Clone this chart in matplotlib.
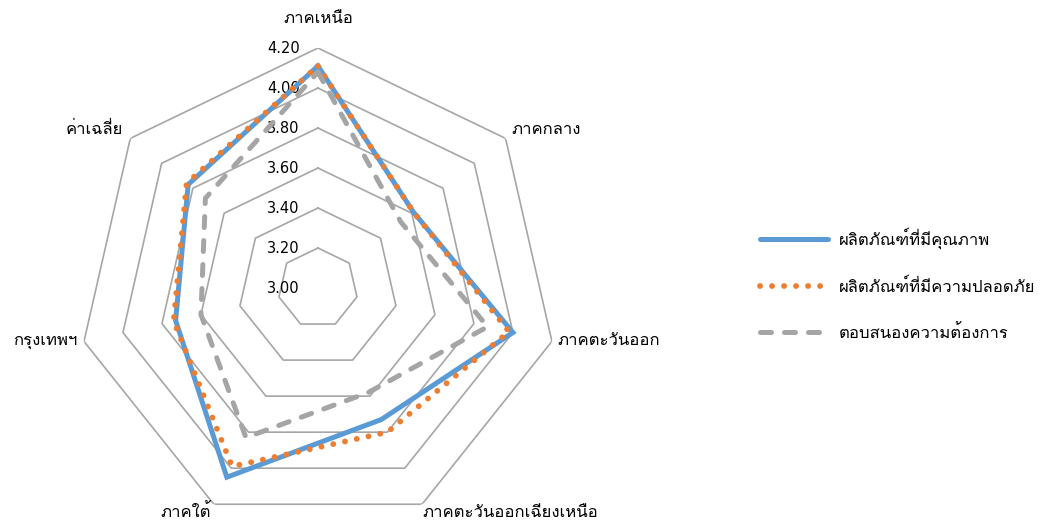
import numpy as np
import matplotlib
matplotlib.use("Agg")
import matplotlib.pyplot as plt
from matplotlib.lines import Line2D

plt.rcParams['font.family'] = ['Loma', 'Noto Sans Thai', 'DejaVu Sans']

# ข้อมูล (อ่านจากภาพ)
categories = ['ภาคเหนือ', 'ภาคกลาง', 'ภาคตะวันออก', 'ภาคตะวันออกเฉียงเหนือ',
              'ภาคใต้', 'กรุงเทพฯ', 'ค่าเฉลี่ย']
quality = [4.11, 3.61, 4.00, 3.73, 4.05, 3.73, 3.83]
safety = [4.11, 3.61, 3.98, 3.80, 3.99, 3.74, 3.84]
demand = [4.08, 3.53, 3.87, 3.58, 3.83, 3.60, 3.72]
series_names = ['ผลิตภัณฑ์ที่มีคุณภาพ', 'ผลิตภัณฑ์ที่มีความปลอดภัย', 'ตอบสนองความต้องการ']
ring_values = [3.20, 3.40, 3.60, 3.80, 4.00, 4.20]
tick_labels = ['3.00', '3.20', '3.40', '3.60', '3.80', '4.00', '4.20']

n = len(categories)
theta = np.arange(n) * 2 * np.pi / n
theta_closed = np.append(theta, theta[0])


def closed(values):
    return np.append(values, values[0])


fig = plt.figure(figsize=(10.45, 5.23), dpi=100)
ax = fig.add_axes([0.0746, -0.0096, 0.4593, 0.9178], projection='polar')
ax.set_theta_offset(np.pi / 2)
ax.set_theta_direction(-1)
ax.set_ylim(3.0, 4.2)
ax.axis('off')

# เส้นตาราง 7 เหลี่ยม
for rv in ring_values:
    ax.plot(theta_closed, [rv] * (n + 1), color='#A6A6A6', lw=1.2, zorder=1)

# ป้ายค่าบนแกน
for i, lab in enumerate(tick_labels):
    ax.annotate(lab, xy=(0, 3.0 + 0.2 * i), xytext=(-13, 0), textcoords='offset points',
                ha='right', va='center', fontsize=10.5, family='DejaVu Sans', color='#000000')

# ป้ายหมวดหมู่
label_cfg = [
    ((0, 21), 'center', 'center'),
    ((4, 6), 'left', 'center'),
    ((4, 0), 'left', 'center'),
    ((0, -6), 'left', 'center'),
    ((-2, -6), 'right', 'center'),
    ((-5, 0), 'right', 'center'),
    ((-5, 6), 'right', 'center'),
]
for t, cat, (off, ha, va) in zip(theta, categories, label_cfg):
    ax.annotate(cat, xy=(t, 4.2), xytext=off, textcoords='offset points',
                ha=ha, va=va, fontsize=12, annotation_clip=False)

ax.plot(theta_closed, closed(quality), color='#5B9BD5', lw=3.6,
        solid_joinstyle='miter', zorder=3)
ax.plot(theta_closed, closed(safety), color='#ED7D31', lw=4.2,
        linestyle=(0, (0.01, 2.05)), dash_capstyle='round', zorder=4)
ax.plot(theta_closed, closed(demand), color='#A5A5A5', lw=3.6,
        linestyle=(0, (2.2, 2.6)), dash_capstyle='round', zorder=5)

handles = [
    Line2D([], [], color='#5B9BD5', lw=3.6, solid_capstyle='round'),
    Line2D([], [], color='#ED7D31', lw=4.2, linestyle=(0, (0.01, 2.05)), dash_capstyle='round'),
    Line2D([], [], color='#A5A5A5', lw=3.6, linestyle=(0, (2.2, 2.6)), dash_capstyle='round'),
]
fig.legend(handles, series_names, loc='center left', bbox_to_anchor=(0.713, 0.455),
           frameon=False, fontsize=12, handlelength=4.1, handletextpad=0.6,
           labelspacing=1.75)

fig.savefig('out.png', dpi=100)
